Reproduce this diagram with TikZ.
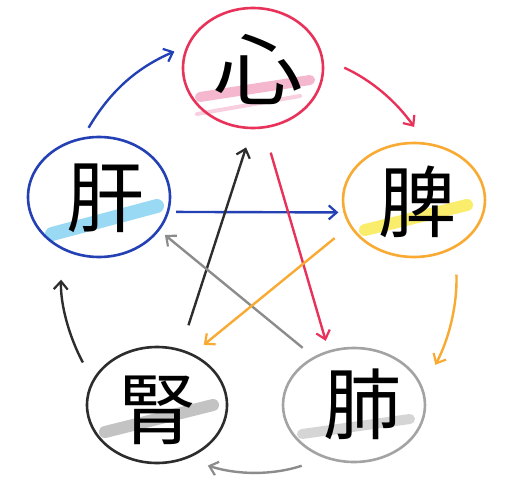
\documentclass[tikz,border=0pt]{standalone}
\usepackage{fontspec}
\newfontfamily\jp{Noto Sans CJK JP}
\usetikzlibrary{shapes.geometric,arrows.meta}
\definecolor{cred}{RGB}{232,50,90}
\definecolor{cblue}{RGB}{35,65,180}
\definecolor{corange}{RGB}{248,170,50}
\definecolor{cgray}{RGB}{140,140,140}
\definecolor{cdark}{RGB}{45,45,45}
\definecolor{hpink}{RGB}{242,160,190}
\definecolor{hblue}{RGB}{120,205,240}
\definecolor{hyellow}{RGB}{250,232,60}
\definecolor{hgray}{RGB}{175,175,175}
\definecolor{hlgray}{RGB}{200,200,200}
\tikzset{
  organ/.style={ellipse, draw, line width=2.6pt, inner sep=0pt},
  glyph/.style={font=\jp\fontsize{78}{78}\selectfont, text=black, inner sep=0pt},
  hl/.style={line cap=round, opacity=0.75},
  arr/.style={line width=2.4pt, -{Straight Barb[length=8pt,width=14pt,line width=2.2pt]}},
}
\begin{document}
\begin{tikzpicture}[x=1pt,y=1pt]
\useasboundingbox (0,0) rectangle (505,488);
\fill[white] (0,0) rectangle (505,488);
% highlights
\draw[hl, hpink, line width=10pt] (200,391) -- (310,408);
\draw[hl, hpink, line width=4pt, opacity=0.5] (197,374) -- (300,392);
\draw[hl, hblue, line width=14pt] (52,254) -- (157,282);
\draw[hl, hyellow, line width=12pt] (365,258) -- (467,283);
\draw[hl, hgray, line width=12pt] (105,56) -- (213,83);
\draw[hl, hlgray, line width=10pt] (302,54) -- (410,69);
% organs
\node[organ, draw=cred, minimum width=140pt, minimum height=120pt] (xin) at (253,420) {};
\node[organ, draw=corange, minimum width=142pt, minimum height=114pt] (pi) at (414,288) {};
\node[organ, draw=cgray!80, minimum width=142pt, minimum height=114pt] (fei) at (354,83) {};
\node[organ, draw=cdark, minimum width=140pt, minimum height=116pt] (shen) at (157,83) {};
\node[organ, draw=cblue, minimum width=142pt, minimum height=120pt] (gan) at (99,291) {};
% glyphs
\node[glyph, xscale=1.15] (xint) at (258,418) {心};
\node[glyph] (pit) at (417,286) {脾};
\node[glyph] (feit) at (362,84) {肺};
\node[glyph] (shent) at (157,78) {腎};
\node[glyph] (gant) at (105,290) {肝};
% outer cycle
\draw[arr, cblue, shorten <=11pt, shorten >=13pt] (gan.105) to[bend left=18] (xin.162);
\draw[arr, cred, shorten <=23pt, shorten >=19pt] (xin.8) to[bend left=15] (pi.79);
\draw[arr, corange, shorten <=27pt, shorten >=26pt] (pi.-49) to[bend left=15] (fei.14);
\draw[arr, cgray, shorten <=24pt, shorten >=22pt] (fei.241) to[bend left=18] (shen.-61);
\draw[arr, cdark, shorten <=20pt, shorten >=30pt] (shen.159) to[bend left=15] (gan.235);
% star
\draw[arr, cblue, shorten <=7pt, shorten >=5pt] (gan.-12) -- (pi.190);
\draw[arr, cdark, shorten <=25pt, shorten >=19pt] (shen.67) -- (xin.269);
\draw[arr, cred, shorten <=25pt, shorten >=10pt] (xin.-80) -- (fei.115);
\draw[arr, cgray, shorten <=14pt, shorten >=7pt] (fei.130) -- (gan.-29);
\draw[arr, corange, shorten <=19pt, shorten >=14pt] (pi.202) -- (shen.55);
\end{tikzpicture}
\end{document}
